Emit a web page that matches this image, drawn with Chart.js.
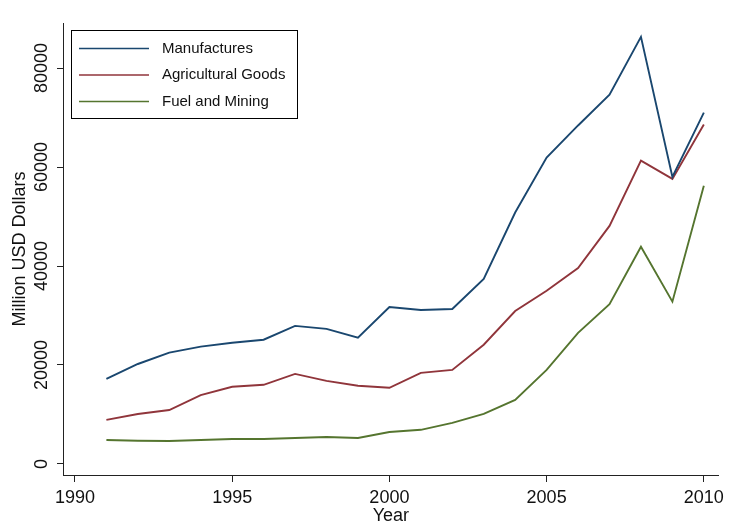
<!DOCTYPE html>
<html lang="en">
<head>
    <meta charset="UTF-8">
    <title>Exports by sector</title>
    <script src="https://cdn.jsdelivr.net/npm/chart.js"></script>
    <style>
        html, body { margin: 0; padding: 0; background: #fff; }
        #wrap { width: 729px; height: 527px; }
    </style>
</head>
<body>
    <div id="wrap"><canvas id="exportsChart" width="729" height="527"></canvas></div>
    <script>
        const years = [1991, 1992, 1993, 1994, 1995, 1996, 1997, 1998, 1999, 2000,
                       2001, 2002, 2003, 2004, 2005, 2006, 2007, 2008, 2009, 2010];
        const manufactures = [17200, 20200, 22500, 23700, 24500, 25100, 27900, 27300, 25500, 31700,
                              31100, 31300, 37400, 50800, 61900, 68400, 74600, 86300, 58000, 71000];
        const agricultural = [8900, 10100, 10900, 13900, 15600, 16000, 18200, 16800, 15800, 15400,
                              18400, 19000, 24100, 30900, 35000, 39600, 48100, 61300, 57600, 68600];
        const fuelMining = [4850, 4700, 4650, 4850, 5050, 5050, 5250, 5450, 5250, 6450,
                            6900, 8300, 10100, 12950, 19000, 26500, 32300, 43900, 32800, 56200];
        const seriesNames = ['Manufactures', 'Agricultural Goods', 'Fuel and Mining'];
        const seriesColors = ['#1a476f', '#90353b', '#55752f'];
        const xTicks = [1990, 1995, 2000, 2005, 2010];
        const yTicks = [0, 20000, 40000, 60000, 80000];

        const FONT = 'Arial, "Liberation Sans", sans-serif';

        function toPoints(values) {
            return years.map((y, i) => ({ x: y, y: values[i] }));
        }

        const datasets = [manufactures, agricultural, fuelMining].map((vals, i) => ({
            label: seriesNames[i],
            data: toPoints(vals),
            borderColor: seriesColors[i],
            backgroundColor: seriesColors[i],
            borderWidth: 1.9,
            pointRadius: 0,
            tension: 0,
            fill: false
        }));

        // legend box drawn inside the plot, Stata style
        const boxLegend = {
            id: 'boxLegend',
            afterDraw(chart) {
                const ctx = chart.ctx;
                const a = chart.chartArea;
                const left = a.left + 8, top = 30, w = 226, h = 88;
                ctx.save();
                ctx.fillStyle = '#fff';
                ctx.fillRect(left, top, w, h);
                ctx.strokeStyle = '#000';
                ctx.lineWidth = 1;
                ctx.strokeRect(left + 0.5, top + 0.5, w, h);
                ctx.font = '15px ' + FONT;
                ctx.textBaseline = 'middle';
                chart.data.datasets.forEach((ds, i) => {
                    const yy = top + 18.5 + i * 26.5;
                    ctx.strokeStyle = ds.borderColor;
                    ctx.lineWidth = 1.6;
                    ctx.beginPath();
                    ctx.moveTo(left + 8, yy);
                    ctx.lineTo(left + 78, yy);
                    ctx.stroke();
                    ctx.fillStyle = '#111';
                    ctx.fillText(ds.label, left + 91, yy);
                });
                ctx.restore();
            }
        };

        const chart = new Chart(document.getElementById('exportsChart'), {
            type: 'line',
            data: { datasets: datasets },
            options: {
                responsive: false,
                animation: false,
                layout: { padding: { left: 0, top: 23, right: 6, bottom: 0 } },
                plugins: {
                    legend: { display: false },
                    tooltip: { enabled: false }
                },
                scales: {
                    x: {
                        type: 'linear',
                        min: 1989.62,
                        max: 2010.47,
                        afterBuildTicks: s => { s.ticks = xTicks.map(v => ({ value: v })); },
                        afterFit: s => { s.height = 52; },
                        border: { display: true, color: '#222', width: 1 },
                        grid: { drawOnChartArea: false, drawTicks: true, tickLength: 7, color: '#222' },
                        ticks: {
                            color: '#111',
                            font: { family: FONT, size: 18 },
                            padding: 5,
                            maxRotation: 0,
                            callback: v => String(v)
                        },
                        title: {
                            display: true,
                            text: 'Year',
                            color: '#111',
                            font: { family: FONT, size: 18 },
                            padding: { top: 0, bottom: 0 }
                        }
                    },
                    y: {
                        type: 'linear',
                        min: -2230,
                        max: 89100,
                        afterBuildTicks: s => { s.ticks = yTicks.map(v => ({ value: v })); },
                        afterFit: s => { s.width = 63; },
                        border: { display: true, color: '#222', width: 1 },
                        grid: { drawOnChartArea: false, drawTicks: true, tickLength: 6, color: '#222' },
                        ticks: {
                            color: '#111',
                            font: { family: FONT, size: 18 },
                            minRotation: 90,
                            maxRotation: 90,
                            crossAlign: 'center',
                            padding: -10,
                            callback: v => String(v)
                        },
                        title: {
                            display: true,
                            text: 'Million USD Dollars',
                            color: '#111',
                            font: { family: FONT, size: 18 },
                            padding: { top: 9, bottom: 0 }
                        }
                    }
                }
            },
            plugins: [boxLegend]
        });
    </script>
</body>
</html>
